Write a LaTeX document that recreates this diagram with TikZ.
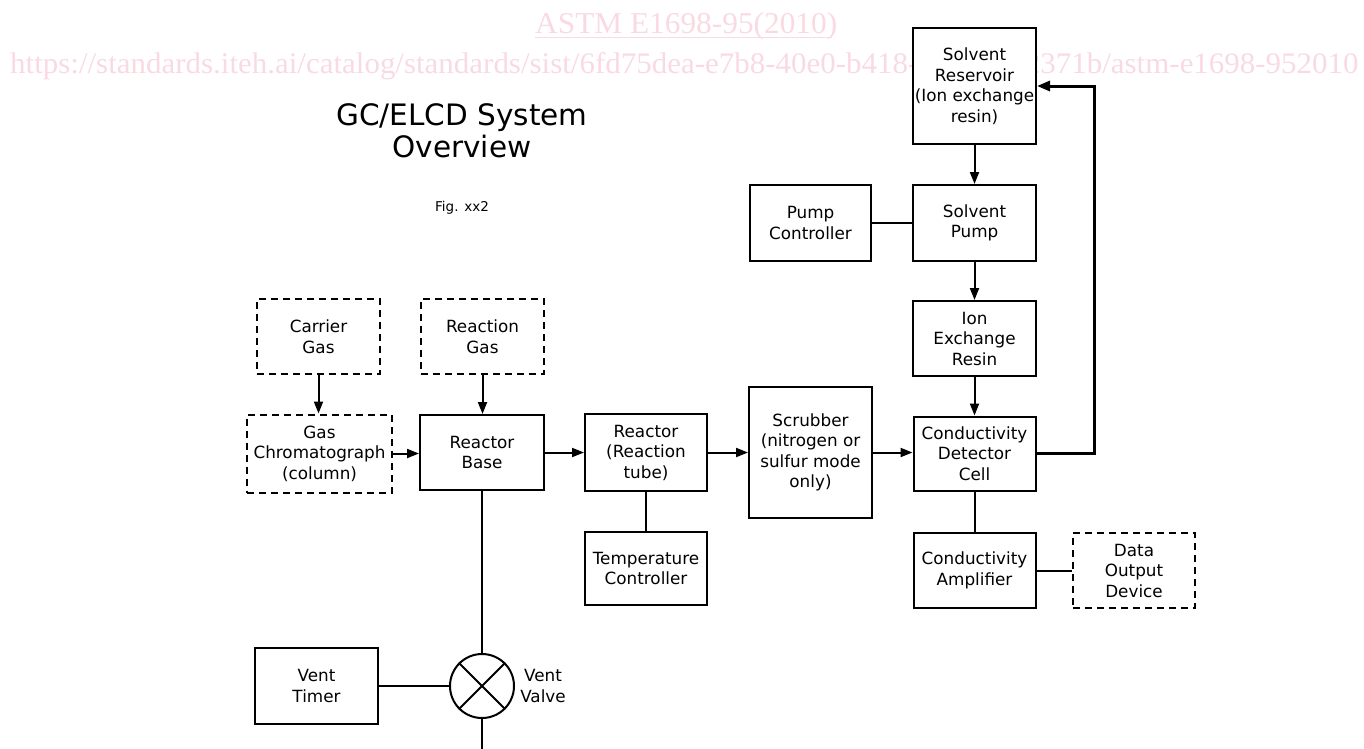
\documentclass[tikz,border=0pt]{standalone}
\usepackage{fontspec}
\setmainfont{DejaVu Sans}
\newfontfamily\wmfont{Liberation Serif}
\usetikzlibrary{arrows.meta}
\definecolor{wmpink}{RGB}{249,218,226}
\newcommand\boxfont{\fontsize{16.8}{20.5}\selectfont}
\begin{document}
\begin{tikzpicture}[x=1pt,y=-1pt,
  box/.style={draw, line width=2pt, fill=white, inner sep=0pt, align=center, font=\boxfont},
  dbox/.style={box, dash pattern=on 7pt off 5pt},
  conn/.style={line width=2pt},
  arr/.style={conn, -{Triangle[length=12pt,width=9pt]}},
  wm/.style={inner sep=0pt, text=wmpink, anchor=base west}
]
\useasboundingbox (0,0) rectangle (1364,748);

% watermark
\node[wm] (wm1) at (535,33) {\resizebox{302pt}{21pt}{\wmfont ASTM E1698-95(2010)}};
\draw[wmpink, line width=1.5pt] (535,37.5) -- (832,37.5);
\node[wm] (wm2) at (10,73) {\resizebox{1348pt}{21pt}{\wmfont https://standards.iteh.ai/catalog/standards/sist/6fd75dea-e7b8-40e0-b418-dbdcb602371b/astm-e1698-952010}};

% title
\node[align=center, font=\fontsize{29.5}{32}\selectfont] (title) at (462,131) {GC/ELCD System\\Overview};
\node[font=\fontsize{13.5}{16}\selectfont] (fig) at (462,208) {Fig. xx2};

% left part
\node[dbox, minimum width=123pt, minimum height=75pt] (carrier) at (318.5,336.5) {Carrier\\Gas};
\node[dbox, minimum width=123pt, minimum height=75pt] (rgas) at (482.5,336.5) {Reaction\\Gas};
\node[dbox, minimum width=145pt, minimum height=78pt] (gc) at (319.5,453.5) {Gas\\Chromatograph\\(column)};
\node[box, minimum width=124pt, minimum height=75pt] (rbase) at (482,452.5) {Reactor\\Base};
\node[box, minimum width=122pt, minimum height=77pt] (reactor) at (646,452.5) {Reactor\\(Reaction\\tube)};
\node[box, minimum width=122pt, minimum height=73pt] (temp) at (646,568.5) {Temperature\\Controller};
\node[box, minimum width=123pt, minimum height=131pt] (scrub) at (810.5,452.5) {Scrubber\\(nitrogen or\\sulfur mode\\only)};

% right part
\node[box, minimum width=123pt, minimum height=116pt] (reservoir) at (974.5,86) {Solvent\\Reservoir\\(Ion exchange\\resin)};
\node[box, minimum width=123pt, minimum height=76pt] (pump) at (974.5,223) {Solvent\\Pump};
\node[box, minimum width=121pt, minimum height=76pt] (pctrl) at (810.5,223) {Pump\\Controller};
\node[box, minimum width=123pt, minimum height=75pt] (ion) at (974.5,338.5) {Ion\\Exchange\\Resin};
\node[box, minimum width=122pt, minimum height=74pt] (cdc) at (974.5,453.5) {Conductivity\\Detector\\Cell};
\node[box, minimum width=122pt, minimum height=75pt] (amp) at (974.5,570.5) {Conductivity\\Amplifier};
\node[dbox, minimum width=122pt, minimum height=75pt] (data) at (1134,570.5) {Data\\Output\\Device};

% vent
\node[box, minimum width=123pt, minimum height=76pt] (timer) at (316.5,686) {Vent\\Timer};
\node[circle, draw, line width=2pt, fill=white, minimum size=64pt, inner sep=0pt] (valve) at (482,686) {};
\draw[conn] (valve.north east) -- (valve.south west);
\draw[conn] (valve.north west) -- (valve.south east);
\node[align=center, font=\boxfont] (vlabel) at (543,686) {Vent\\Valve};
\coordinate (vbot) at (482,749);
\coordinate (corner) at (1094,453.5);

% connectors
\draw[arr] (carrier.south) -- (carrier.south |- gc.north);
\draw[arr] (rgas.south) -- (rgas.south |- rbase.north);
\draw[arr] (gc.east) -- (gc.east -| rbase.west);
\draw[arr] (rbase.east) -- (rbase.east -| reactor.west);
\draw[arr] (reactor.east) -- (reactor.east -| scrub.west);
\draw[arr] (scrub.east) -- (scrub.east -| cdc.west);
\draw[conn] (reactor.south) -- (temp.north);
\draw[conn] (rbase.south) -- (valve.north);
\draw[conn] (timer.east) -- (valve.west);
\draw[conn] (valve.south) -- (vbot);
\draw[arr] (reservoir.south) -- (pump.north);
\draw[arr] (pump.south) -- (ion.north);
\draw[arr] (ion.south) -- (cdc.north);
\draw[conn] (pctrl.east) -- (pctrl.east -| pump.west);
\draw[conn] (cdc.south) -- (amp.north);
\draw[conn] (amp.east) -- (amp.east -| data.west);
\draw[line width=3pt, -{Triangle[length=13pt,width=10pt]}] (cdc.east) -- (corner) |- (reservoir.east);
\end{tikzpicture}
\end{document}
